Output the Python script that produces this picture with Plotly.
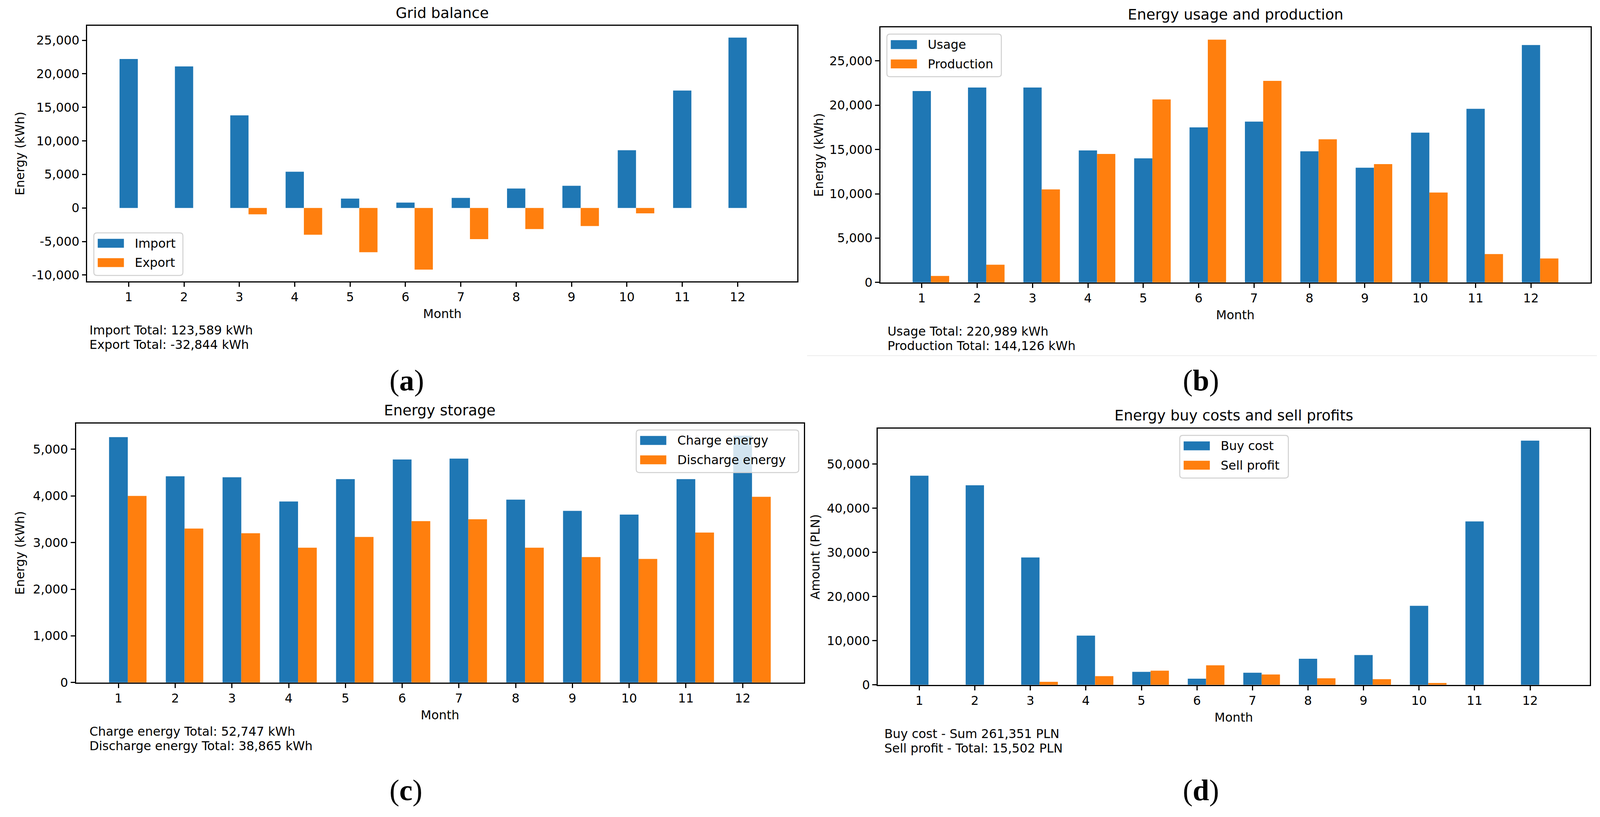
import plotly.graph_objects as go

# reference canvas size (pixels); figure width follows the window, height fixed
W, H = 4375, 2091
TOP_OFF = 8          # page body margin
FIG_H = H - 2 * TOP_OFF + 8   # 2083

# ---------------- data ----------------
months = list(range(1, 13))

grid_import = [22200, 21100, 13800, 5400, 1400, 800, 1500, 2900, 3300, 8600, 17500, 25400]
grid_export = [0, 0, -950, -4000, -6600, -9200, -4650, -3150, -2700, -800, 0, 0]

usage = [21600, 22000, 22000, 14900, 14000, 17500, 18150, 14800, 12950, 16900, 19600, 26800]
production = [730, 2000, 10500, 14500, 20650, 27400, 22750, 16150, 13350, 10150, 3200, 2700]

charge = [5260, 4420, 4400, 3880, 4360, 4780, 4800, 3920, 3680, 3600, 4360, 5290]
discharge = [4000, 3300, 3200, 2890, 3120, 3460, 3500, 2890, 2690, 2650, 3215, 3980]

buy_cost = [47350, 45200, 28850, 11150, 2950, 1400, 2750, 5900, 6750, 17900, 37000, 55300]
sell_profit = [0, 0, 680, 1970, 3200, 4430, 2340, 1480, 1290, 430, 0, 0]

yticks_a = [-10000, -5000, 0, 5000, 10000, 15000, 20000, 25000]
yticks_b = [0, 5000, 10000, 15000, 20000, 25000]
yticks_c = [0, 1000, 2000, 3000, 4000, 5000]
yticks_d = [0, 10000, 20000, 30000, 40000, 50000]

titles = ["Grid balance", "Energy usage and production", "Energy storage",
          "Energy buy costs and sell profits"]
ylabels = ["Energy (kWh)", "Energy (kWh)", "Energy (kWh)", "Amount (PLN)"]
series_names = [("Import", "Export"), ("Usage", "Production"),
                ("Charge energy", "Discharge energy"), ("Buy cost", "Sell profit")]
totals_text = [
    ("Import Total: 123,589 kWh", "Export Total: -32,844 kWh"),
    ("Usage Total: 220,989 kWh", "Production Total: 144,126 kWh"),
    ("Charge energy Total: 52,747 kWh", "Discharge energy Total: 38,865 kWh"),
    ("Buy cost - Sum 261,351 PLN", "Sell profit - Total: 15,502 PLN"),
]
panel_tags = ["(<b>a</b>)", "(<b>b</b>)", "(<b>c</b>)", "(<b>d</b>)"]

# ---------------- styling / geometry ----------------
BLUE = "#1f77b4"
ORANGE = "#ff7f0e"
FONT = "DejaVu Sans"
FS = 31.5
BW = 0.33

# plot areas in reference pixels: left, top, right, bottom
boxes = [(231, 67, 2180, 726), (2408, 71, 4358, 729),
         (200, 1093, 2198, 1762), (2401, 1106, 4356, 1768)]
ylab_x = [46, 2239, 46, 2229]
text_x = [235, 2426, 235, 2417]
tag_pos = [(1108, 982), (3288, 982), (1106, 2040), (3288, 2040)]
# legends: anchor x (px), anchor side, top (px), width (px)
legends = [(249, "left", 601, 228), (2426, "left", 88, 293),
           (2184, "right", 1110, 416), (3379, "center", 1124, 278)]


def px(x):
    return x / W


def py(y):
    return 1 - (y - TOP_OFF) / FIG_H


data_sets = [(grid_import, grid_export), (usage, production),
             (charge, discharge), (buy_cost, sell_profit)]
yticks_all = [yticks_a, yticks_b, yticks_c, yticks_d]

fig = go.Figure()
annotations = []
shapes = []

for i, ((s1, s2), (n1, n2)) in enumerate(zip(data_sets, series_names)):
    xa = "x" if i == 0 else f"x{i+1}"
    ya = "y" if i == 0 else f"y{i+1}"
    fig.add_trace(go.Bar(x=months, y=s1, name=n1, width=BW, offset=-BW / 2,
                         marker=dict(color=BLUE, line=dict(width=0)),
                         xaxis=xa, yaxis=ya, showlegend=False))
    fig.add_trace(go.Bar(x=months, y=s2, name=n2, width=BW, offset=BW / 2,
                         marker=dict(color=ORANGE, line=dict(width=0)),
                         xaxis=xa, yaxis=ya, showlegend=False))

    l, t, r, b = boxes[i]
    lo_x, hi_x = months[0] - BW / 2, months[-1] + 1.5 * BW
    mx = 0.05 * (hi_x - lo_x)
    lo_y = min(min(s1), min(s2), 0)
    hi_y = max(max(s1), max(s2))
    my = 0.05 * (hi_y - lo_y)
    yr = [lo_y - my if lo_y < 0 else 0, hi_y + my]

    axis_common = dict(showline=True, linecolor="black", linewidth=2.6, mirror=True,
                       ticks="outside", ticklen=11, tickwidth=2.6, tickcolor="black",
                       showgrid=False, zeroline=False,
                       tickfont=dict(family=FONT, size=FS, color="black"))
    xkey = "xaxis" if i == 0 else f"xaxis{i+1}"
    ykey = "yaxis" if i == 0 else f"yaxis{i+1}"
    fig.update_layout(**{
        xkey: dict(domain=[px(l), px(r)], range=[lo_x - mx, hi_x + mx],
                   anchor=ya, tickmode="array", tickvals=months,
                   ticktext=[str(m) for m in months], **axis_common),
        ykey: dict(domain=[py(b), py(t)], range=yr, anchor=xa,
                   tickmode="array", tickvals=yticks_all[i],
                   ticktext=[f"{v:,}" for v in yticks_all[i]], **axis_common),
    })

    cx = (l + r) / 2
    annotations.append(dict(x=px(cx), y=py(t - 34), xref="paper", yref="paper",
                            text=titles[i], showarrow=False, xanchor="center",
                            yanchor="middle", font=dict(family=FONT, size=37.5, color="black")))
    annotations.append(dict(x=px(cx), y=py(b + 84), xref="paper", yref="paper",
                            text="Month", showarrow=False, xanchor="center",
                            yanchor="middle", font=dict(family=FONT, size=FS, color="black")))
    annotations.append(dict(x=px(ylab_x[i]), y=py((t + b) / 2), xref="paper", yref="paper",
                            text=ylabels[i], showarrow=False, textangle=-90,
                            xanchor="center", yanchor="middle",
                            font=dict(family=FONT, size=FS, color="black")))
    for k, line in enumerate(totals_text[i]):
        annotations.append(dict(x=px(text_x[i]), y=py(b + 126 + 38 * k), xref="paper",
                                yref="paper", text=line, showarrow=False,
                                xanchor="left", yanchor="middle",
                                font=dict(family=FONT, size=FS, color="black")))
    annotations.append(dict(x=px(tag_pos[i][0]), y=py(tag_pos[i][1]), xref="paper",
                            yref="paper", text=panel_tags[i], showarrow=False,
                            xanchor="center", yanchor="middle",
                            font=dict(family="Liberation Serif", size=76, color="black")))

    # matplotlib-style legend box (pixel-sized, anchored on the paper)
    ax_px, side, ly, lw = legends[i]
    if side == "left":
        x0 = 0
    elif side == "right":
        x0 = -lw
    else:
        x0 = -lw / 2
    x1 = x0 + lw
    lh = 110
    rr = 8
    y0, y1 = py(ly), py(ly + lh)
    yr0, yr1 = py(ly + rr), py(ly + lh - rr)
    path = (f"M {x0+rr},{y0} L {x1-rr},{y0} Q {x1},{y0} {x1},{yr0} "
            f"L {x1},{yr1} Q {x1},{y1} {x1-rr},{y1} "
            f"L {x0+rr},{y1} Q {x0},{y1} {x0},{yr1} "
            f"L {x0},{yr0} Q {x0},{y0} {x0+rr},{y0} Z")
    shapes.append(dict(type="path", path=path, xref="paper", yref="paper",
                       xsizemode="pixel", xanchor=px(ax_px),
                       fillcolor="rgba(255,255,255,0.8)",
                       line=dict(color="#d0d0d0", width=2.5)))
    for k, (nm, col) in enumerate(zip(series_names[i], (BLUE, ORANGE))):
        rowy = ly + 27 + 50 * k
        shapes.append(dict(type="rect", xref="paper", yref="paper",
                           xsizemode="pixel", xanchor=px(ax_px),
                           x0=x0 + 10, x1=x0 + 77,
                           y0=py(rowy - 11.5), y1=py(rowy + 11.5),
                           fillcolor=col, line=dict(width=0)))
        annotations.append(dict(x=px(ax_px), xshift=x0 + 103, y=py(rowy), xref="paper",
                                yref="paper", text=nm, showarrow=False,
                                xanchor="left", yanchor="middle",
                                font=dict(family=FONT, size=FS, color="black")))

# faint separator line under panel (b)
shapes.append(dict(type="line", xref="paper", yref="paper", x0=px(2207), x1=1,
                   y0=py(918), y1=py(918), line=dict(color="#ececec", width=2)))

fig.update_layout(autosize=True, height=FIG_H, margin=dict(l=0, r=0, t=0, b=0),
                  paper_bgcolor="white", plot_bgcolor="white", barmode="overlay",
                  showlegend=False, annotations=annotations, shapes=shapes,
                  font=dict(family=FONT, size=FS, color="black"))

fig.write_html("out.html")
